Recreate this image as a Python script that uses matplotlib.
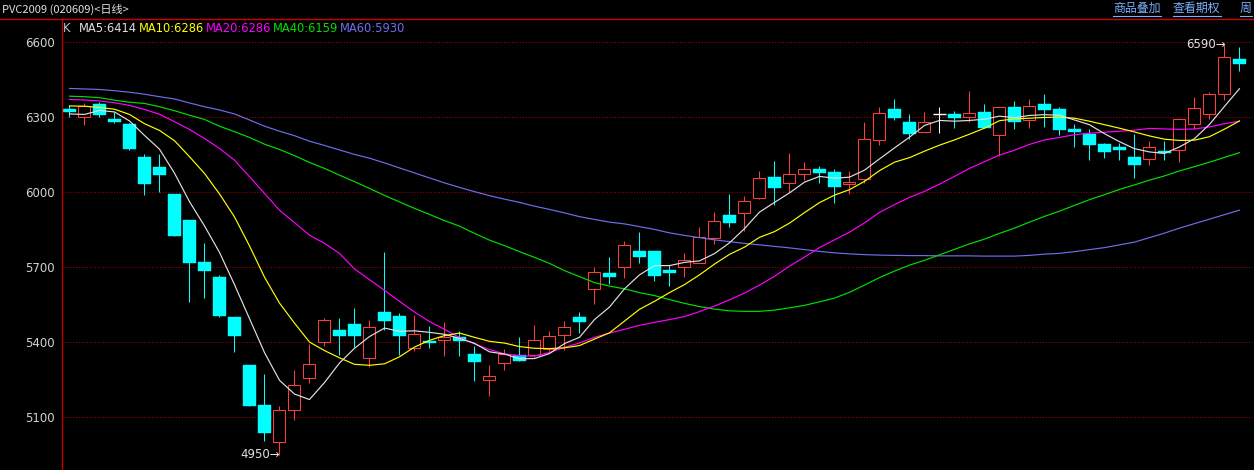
import matplotlib.pyplot as plt
from matplotlib.patches import Rectangle
from matplotlib.lines import Line2D

# daily candles, PVC2009
opens = [6333, 6300, 6353, 6293, 6273, 6140, 6101, 5993, 5889, 5721,
         5661, 5501, 5309, 5149, 5001, 5129, 5257, 5401, 5449, 5473,
         5339, 5521, 5505, 5377, 5405, 5408, 5421, 5353, 5248, 5319,
         5348, 5351, 5375, 5428, 5501, 5615, 5677, 5703, 5765, 5765,
         5689, 5703, 5718, 5818, 5909, 5916, 5976, 6061, 6036, 6072,
         6093, 6081, 6033, 6055, 6211, 6333, 6281, 6243, 6312, 6313,
         6300, 6321, 6231, 6341, 6291, 6353, 6333, 6253, 6235, 6193,
         6181, 6141, 6135, 6165, 6171, 6275, 6315, 6392, 6533]
closes = [6321, 6344, 6309, 6283, 6173, 6033, 6069, 5825, 5717, 5685,
          5505, 5425, 5145, 5037, 5129, 5229, 5313, 5489, 5425, 5425,
          5461, 5485, 5425, 5433, 5397, 5421, 5404, 5323, 5264, 5353,
          5327, 5408, 5424, 5461, 5481, 5680, 5661, 5788, 5741, 5666,
          5677, 5728, 5820, 5884, 5879, 5964, 6057, 6018, 6072, 6092,
          6079, 6023, 6041, 6212, 6316, 6299, 6235, 6280, 6312, 6299,
          6316, 6258, 6340, 6283, 6344, 6329, 6249, 6243, 6189, 6163,
          6169, 6109, 6181, 6157, 6293, 6336, 6392, 6541, 6515]
highs = [6348, 6356, 6362, 6321, 6276, 6153, 6153, 5995, 5890, 5797,
         5669, 5502, 5310, 5273, 5145, 5289, 5393, 5497, 5497, 5537,
         5489, 5761, 5516, 5509, 5465, 5481, 5445, 5385, 5309, 5373,
         5421, 5469, 5445, 5485, 5521, 5701, 5741, 5805, 5841, 5766,
         5709, 5757, 5861, 5921, 5993, 5985, 6085, 6125, 6157, 6121,
         6105, 6093, 6085, 6280, 6341, 6373, 6313, 6321, 6340, 6325,
         6405, 6353, 6340, 6365, 6373, 6393, 6341, 6273, 6255, 6197,
         6197, 6233, 6205, 6205, 6297, 6381, 6401, 6590, 6581]
lows = [6300, 6270, 6300, 6277, 6168, 5989, 6001, 5824, 5563, 5577,
        5503, 5361, 5144, 5005, 4950, 5089, 5237, 5385, 5349, 5383,
        5303, 5449, 5349, 5365, 5377, 5346, 5346, 5247, 5187, 5290,
        5326, 5343, 5367, 5371, 5437, 5553, 5633, 5657, 5717, 5645,
        5625, 5661, 5718, 5795, 5863, 5847, 5972, 5949, 6000, 6048,
        6039, 5959, 5995, 6036, 6191, 6289, 6215, 6243, 6236, 6258,
        6283, 6258, 6147, 6253, 6258, 6263, 6229, 6181, 6129, 6137,
        6129, 6057, 6109, 6129, 6123, 6254, 6295, 6369, 6485]

ma5 = [6314, 6312, 6328, 6322, 6286, 6228, 6173, 6077, 5963, 5866,
       5760, 5631, 5495, 5359, 5248, 5193, 5171, 5239, 5317, 5376,
       5423, 5457, 5444, 5446, 5440, 5432, 5416, 5396, 5362, 5353,
       5334, 5335, 5355, 5395, 5420, 5491, 5541, 5614, 5670, 5707,
       5707, 5720, 5726, 5755, 5798, 5855, 5921, 5960, 5998, 6041,
       6064, 6057, 6061, 6089, 6134, 6178, 6221, 6268, 6288, 6285,
       6288, 6293, 6305, 6299, 6308, 6311, 6309, 6290, 6271, 6235,
       6203, 6175, 6162, 6156, 6182, 6215, 6272, 6344, 6415]
ma10 = [6346, 6345, 6340, 6333, 6312, 6275, 6248, 6207, 6143, 6076,
        5994, 5902, 5786, 5661, 5557, 5477, 5401, 5367, 5338, 5312,
        5308, 5314, 5342, 5381, 5408, 5427, 5437, 5420, 5404, 5397,
        5383, 5376, 5375, 5378, 5387, 5413, 5438, 5485, 5532, 5564,
        5599, 5631, 5670, 5713, 5752, 5781, 5820, 5843, 5877, 5919,
        5959, 5989, 6011, 6044, 6087, 6121, 6139, 6165, 6189, 6210,
        6233, 6257, 6287, 6294, 6297, 6300, 6301, 6297, 6285, 6271,
        6257, 6242, 6226, 6213, 6208, 6209, 6223, 6253, 6286]
ma20 = [6372, 6370, 6366, 6359, 6348, 6332, 6313, 6283, 6252, 6216,
        6176, 6129, 6063, 5996, 5929, 5879, 5829, 5796, 5756, 5694,
        5651, 5608, 5564, 5521, 5483, 5452, 5419, 5394, 5371, 5354,
        5346, 5345, 5359, 5380, 5397, 5420, 5437, 5452, 5468, 5480,
        5491, 5503, 5523, 5545, 5570, 5597, 5629, 5664, 5705, 5741,
        5779, 5810, 5841, 5878, 5920, 5951, 5980, 6004, 6033, 6064,
        6096, 6123, 6149, 6169, 6192, 6210, 6220, 6231, 6237, 6241,
        6245, 6249, 6256, 6254, 6252, 6254, 6262, 6275, 6285]
ma40 = [6385, 6383, 6379, 6369, 6361, 6356, 6343, 6327, 6309, 6292,
        6265, 6243, 6220, 6193, 6172, 6147, 6120, 6096, 6069, 6043,
        6016, 5988, 5962, 5936, 5912, 5887, 5865, 5836, 5809, 5787,
        5763, 5740, 5716, 5687, 5663, 5639, 5625, 5614, 5599, 5587,
        5571, 5556, 5543, 5533, 5526, 5524, 5524, 5529, 5538, 5548,
        5562, 5577, 5600, 5629, 5659, 5685, 5709, 5728, 5750, 5772,
        5794, 5813, 5836, 5857, 5881, 5904, 5925, 5948, 5971, 5991,
        6012, 6030, 6049, 6066, 6086, 6103, 6121, 6140, 6159]
ma60 = [6416, 6414, 6412, 6407, 6401, 6393, 6383, 6374, 6358, 6343,
        6330, 6314, 6290, 6265, 6245, 6227, 6205, 6188, 6170, 6152,
        6137, 6118, 6098, 6078, 6058, 6038, 6020, 6003, 5987, 5973,
        5960, 5945, 5932, 5918, 5903, 5892, 5881, 5874, 5863, 5852,
        5838, 5828, 5819, 5810, 5803, 5796, 5790, 5784, 5778, 5771,
        5764, 5758, 5754, 5751, 5749, 5748, 5747, 5747, 5746, 5746,
        5746, 5745, 5745, 5745, 5748, 5753, 5756, 5763, 5771, 5779,
        5790, 5801, 5819, 5837, 5857, 5875, 5893, 5911, 5929]

legend_items = ['K', 'MA5:6414', 'MA10:6286', 'MA20:6286', 'MA40:6159', 'MA60:5930']
links = ['商品叠加', '查看期权', '周']
yticks = [5100, 5400, 5700, 6000, 6300, 6600]

W, H = 1254, 470
UP = '#ff3c3c'
DOWN = '#00ffff'
MA_COLORS = ['#e0e0e0', '#ffff00', '#ff00ff', '#00e000', '#6e6ef0']

fig = plt.figure(figsize=(W / 100, H / 100), dpi=100, facecolor='black')
ax = fig.add_axes([61.5 / W, 0, 1 - 61.5 / W, (H - 18.5) / H], facecolor='black')

def fx(px):
  return px / W

def fy(py):
  return 1 - py / H

for yv in yticks:
  ax.axhline(yv, color='#a00000', lw=0.75, ls=(0, (1, 1.6)), zorder=0)

lw = 0.75
for i in range(len(closes)):
  o, c, h, l = opens[i], closes[i], highs[i], lows[i]
  if c > o:
    ax.vlines(i, l, h, color=UP, lw=lw, zorder=1)
    ax.add_patch(Rectangle((i - 0.4, o), 0.8, c - o, facecolor='black',
                           edgecolor=UP, lw=lw, zorder=2))
  elif c < o:
    ax.vlines(i, l, h, color=DOWN, lw=lw, zorder=1)
    ax.add_patch(Rectangle((i - 0.433, c), 0.866, o - c, facecolor=DOWN,
                           edgecolor=DOWN, lw=0.3, zorder=2))
  else:
    ax.vlines(i, l, h, color='white', lw=lw, zorder=1)
    ax.hlines(o, i - 0.433, i + 0.433, color='white', lw=1.0, zorder=2)

xs = list(range(len(closes)))
for ma, col in zip([ma60, ma40, ma20, ma10, ma5], MA_COLORS[::-1]):
  ax.plot(xs, ma, color=col, lw=0.85, zorder=4)

ax.set_xlim(-0.533, 78.97)
ax.set_ylim(4889, 6696)
ax.set_xticks([])
ax.set_yticks(yticks)
ax.set_yticklabels([str(v) for v in yticks])
ax.tick_params(axis='y', length=0, pad=4.5, labelcolor='#d0d4d8', labelsize=8.5)
for s in ['top', 'right', 'bottom']:
  ax.spines[s].set_visible(False)
ax.spines['left'].set_color('#c00000')
ax.spines['left'].set_linewidth(1.0)

# high / low markers
imin = lows.index(min(lows))
imax = highs.index(max(highs))
ax.annotate(str(min(lows)) + '\u2192', xy=(imin, min(lows)), xytext=(1, 0),
            textcoords='offset pixels', ha='right', va='center',
            color='#e0e0e0', fontsize=8.5, zorder=5)
ax.annotate(str(max(highs)) + '\u2192', xy=(imax, max(highs)), xytext=(1, 0),
            textcoords='offset pixels', ha='right', va='center',
            color='#e0e0e0', fontsize=8.5, zorder=5)

# header
fig.add_artist(Line2D([0, 1], [fy(18.5), fy(18.5)], color='#d00000', lw=1.0))
cjk = ['Noto Sans CJK SC', 'DejaVu Sans']
fig.text(fx(2), fy(9), 'PVC2009 (020609)<日线>', color='#e0e0e0', fontsize=8,
         family=cjk, va='center', ha='left')
for label, x0 in zip(links, [1113, 1173, 1240]):
  fig.text(fx(x0), fy(8), label, color='#78b0ff', fontsize=8.6, family=cjk,
           va='center', ha='left')
  x1 = min(x0 + 12 * len(label), W)
  fig.add_artist(Line2D([fx(x0), fx(x1)], [fy(15.5), fy(15.5)],
                        color='#78b0ff', lw=0.8))

leg_x = [63, 79, 139, 206, 273, 340]
leg_c = ['#b8c4d0'] + MA_COLORS
for s, x0, col in zip(legend_items, leg_x, leg_c):
  fig.text(fx(x0), fy(28), s, color=col, fontsize=8.3, va='center', ha='left')

fig.savefig('out.png', dpi=100, facecolor='black')
